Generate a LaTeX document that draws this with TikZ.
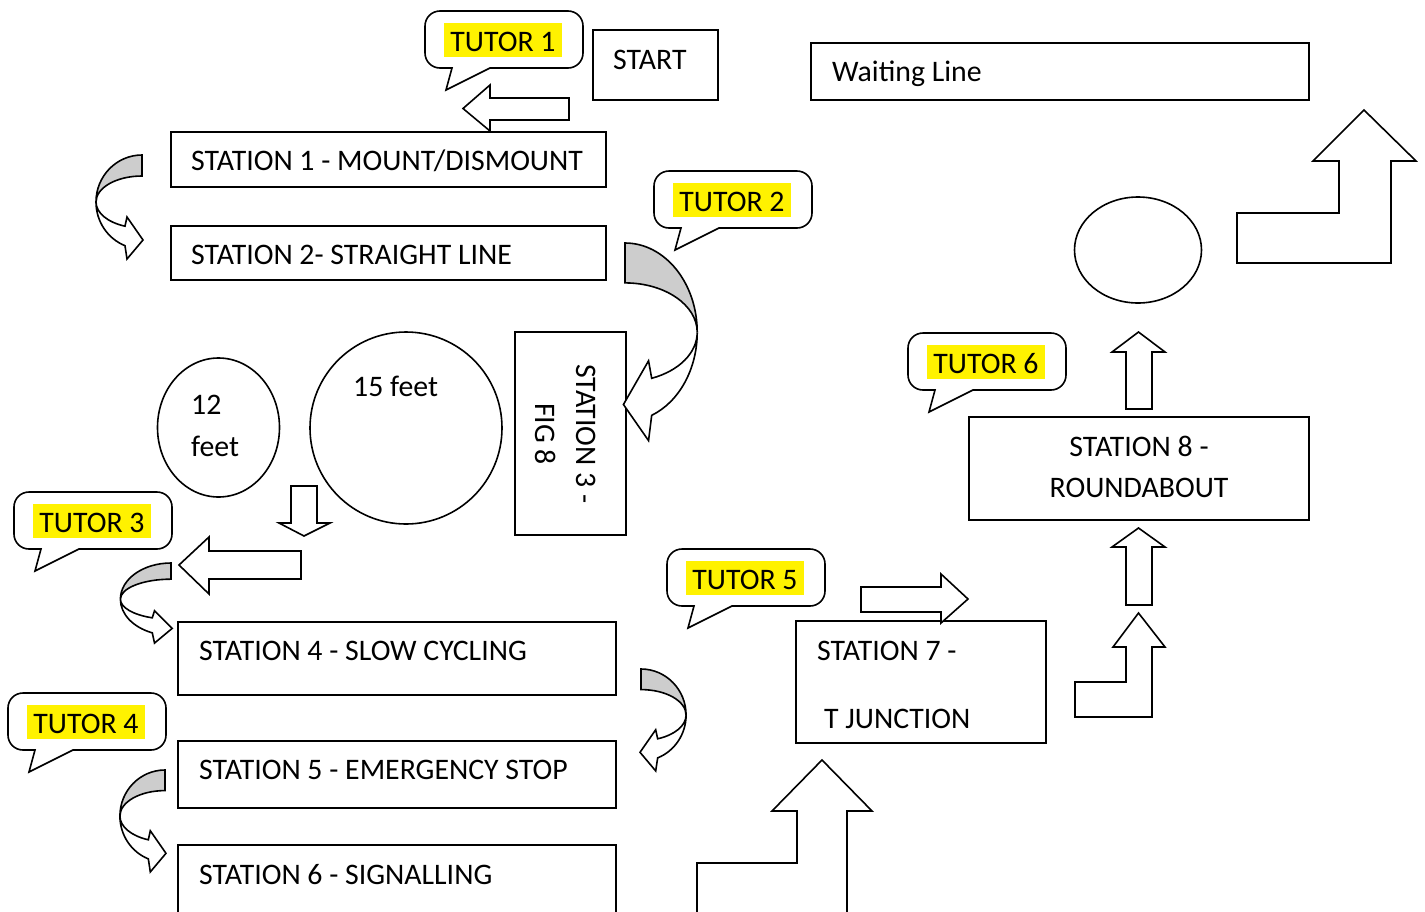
\documentclass[tikz,border=0pt]{standalone}
\usepackage{fontspec}
\setmainfont{Carlito}
\usetikzlibrary{shapes.geometric}
\definecolor{bandgray}{HTML}{CDCDCD}
\tikzset{
  ln/.style={line width=1.6pt, draw=black},
  box/.style={ln, rectangle, inner sep=0pt, outer sep=0pt},
  ring/.style={ln, ellipse, inner sep=0pt, outer sep=0pt},
  lbl/.style={font=\fontsize{29.8}{35}\selectfont, inner sep=0pt, anchor=base west},
  clbl/.style={font=\fontsize{29.8}{35}\selectfont, inner sep=0pt, anchor=base},
  tut/.style={font=\fontsize{29.8}{35}\selectfont, fill=yellow, inner xsep=6pt, inner ysep=0pt, text height=28pt, text depth=6pt, anchor=base},
  blockarrow/.style={ln, fill=white},
}
\newcommand\tutorcallout[4]{%
  \draw[ln, fill=white] (#2+27,#3+57) -- (#2+15,#3+57)
    .. controls (#2+6.7,#3+57) and (#2,#3+50.3) .. (#2,#3+42)
    -- (#2,#3+15) .. controls (#2,#3+6.7) and (#2+6.7,#3) .. (#2+15,#3)
    -- (#2+143,#3) .. controls (#2+151.3,#3) and (#2+158,#3+6.7) .. (#2+158,#3+15)
    -- (#2+158,#3+42) .. controls (#2+158,#3+50.3) and (#2+151.3,#3+57) .. (#2+143,#3+57)
    -- (#2+65,#3+57) -- (#2+21,#3+79) -- cycle;
  \node[tut] (#1) at (#2+78,#3+40) {#4};
}
\newcommand\curvedarrow[4]{%
  \begin{scope}[shift={(#1,#2)}, xscale=#3, yscale=#4]
    \draw[ln, fill=bandgray] (0,0) .. controls (-25.4,0) and (-46,21) .. (-46,47)
      .. controls (-46,32.6) and (-25.4,21) .. (0,21) -- cycle;
    \draw[ln, fill=white] (-46,47) .. controls (-46,57.7) and (-34.5,67.3) .. (-17,71.2)
      -- (-15,62) -- (1,85) -- (-15,104) -- (-17,90.7)
      .. controls (-34.5,83.6) and (-46,66.3) .. (-46,47) -- cycle;
  \end{scope}}
\begin{document}
\begin{tikzpicture}[x=1pt,y=-1pt]
\useasboundingbox (0,0) rectangle (1425,911);
\clip (0,0) rectangle (1425,911);

% boxes
\node[box, minimum width=125pt, minimum height=70pt] (start) at (655.5,65) {};
\node[lbl] (starttext) at (613,69) {START};
\node[box, minimum width=498pt, minimum height=57pt] (wait) at (1060,71.5) {};
\node[lbl] (waittext) at (832,81) {Waiting Line};
\node[box, minimum width=435pt, minimum height=55pt] (s1) at (388.5,159.5) {};
\node[lbl] (s1text) at (191,170) {STATION 1 - MOUNT/DISMOUNT};
\node[box, minimum width=435pt, minimum height=54pt] (s2) at (388.5,253) {};
\node[lbl] (s2text) at (191,264) {STATION 2- STRAIGHT LINE};
\node[box, minimum width=111pt, minimum height=203pt] (s3) at (570.5,433.5) {};
\node[clbl, rotate=-90] (s3texta) at (576,434) {STATION 3 -};
\node[clbl, rotate=-90] (s3textb) at (535,434) {FIG 8};
\node[box, minimum width=438pt, minimum height=73pt] (s4) at (397,658.5) {};
\node[lbl] (s4text) at (199,660) {STATION 4 - SLOW CYCLING};
\node[box, minimum width=438pt, minimum height=67pt] (s5) at (397,774.5) {};
\node[lbl] (s5text) at (199,779) {STATION 5 - EMERGENCY STOP};
\node[box, minimum width=438pt, minimum height=85pt] (s6) at (397,887.5) {};
\node[lbl] (s6text) at (199,884) {STATION 6 - SIGNALLING};
\node[box, minimum width=250pt, minimum height=122pt] (s7) at (921,682) {};
\node[lbl] (s7texta) at (817,660) {STATION 7 -};
\node[lbl] (s7textb) at (824,728) {T JUNCTION};
\node[box, minimum width=340pt, minimum height=103pt] (s8) at (1139,468.5) {};
\node[clbl] (s8texta) at (1139,456) {STATION 8 -};
\node[clbl] (s8textb) at (1139,497) {ROUNDABOUT};

% circles
\node[ring, minimum width=122pt, minimum height=139pt] (c12) at (218.5,427.5) {};
\node[lbl] (c12a) at (191,414) {12};
\node[lbl] (c12b) at (191,456) {feet};
\node[ring, minimum width=192pt, minimum height=192pt] (c15) at (406,428) {};
\node[lbl] (c15a) at (353,396) {15 feet};
\node[ring, minimum width=127pt, minimum height=106pt] (rb) at (1138,250) {};

% tutor callouts
\tutorcallout{t1}{425}{11}{TUTOR 1}
\tutorcallout{t2}{654}{171}{TUTOR 2}
\tutorcallout{t3}{14}{492}{TUTOR 3}
\tutorcallout{t4}{8}{693}{TUTOR 4}
\tutorcallout{t5}{667}{549}{TUTOR 5}
\tutorcallout{t6}{908}{333}{TUTOR 6}

% straight block arrows
\draw[blockarrow] (569,98) -- (490,98) -- (490,85) -- (463,108.5) -- (490,131) -- (490,120) -- (569,120) -- cycle;
\draw[blockarrow] (291,486) -- (317,486) -- (317,523) -- (330,523) -- (304,536) -- (279,523) -- (291,523) -- cycle;
\draw[blockarrow] (301,551) -- (209,551) -- (209,537) -- (179,565) -- (209,594) -- (209,579) -- (301,579) -- cycle;
\draw[blockarrow] (861,587) -- (941,587) -- (941,574) -- (968,599) -- (941,623) -- (941,612) -- (861,612) -- cycle;
\draw[blockarrow] (1126,409) -- (1126,352) -- (1112,352) -- (1138.5,332) -- (1165,352) -- (1152,352) -- (1152,409) -- cycle;
\draw[blockarrow] (1126,605) -- (1126,547) -- (1112,547) -- (1138.5,528) -- (1165,547) -- (1152,547) -- (1152,605) -- cycle;

% bent block arrows
\draw[blockarrow] (1075,682) -- (1126,682) -- (1126,647) -- (1113,647) -- (1138.5,613) -- (1165,647) -- (1152,647) -- (1152,717) -- (1075,717) -- cycle;
\draw[blockarrow] (697,930) -- (697,863) -- (797,863) -- (797,811) -- (772,811) -- (822,760) -- (872,811) -- (847,811) -- (847,930);
\draw[blockarrow] (1237,213) -- (1339,213) -- (1339,161) -- (1313,161) -- (1364,110) -- (1416,161) -- (1391,161) -- (1391,263) -- (1237,263) -- cycle;

% curved arrows
\curvedarrow{142}{155}{1}{1}
\curvedarrow{171}{563}{1.1}{0.77}
\curvedarrow{165}{770}{0.98}{0.98}
\curvedarrow{625}{243}{-1.57}{1.9}
\curvedarrow{641}{669}{-0.98}{0.98}
\end{tikzpicture}
\end{document}
